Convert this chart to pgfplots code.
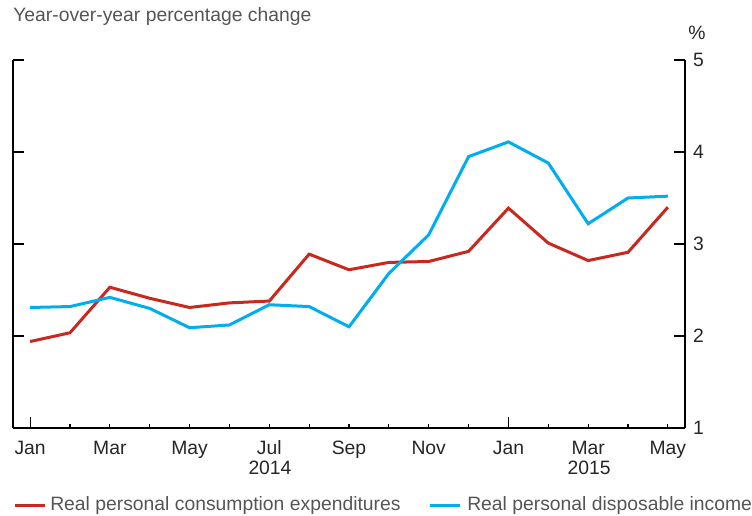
\documentclass[border=0pt]{standalone}
\usepackage{pgfplots}
\pgfplotsset{compat=1.18}
\usepackage{fontspec}
\setmainfont{Liberation Sans}
\definecolor{pcered}{HTML}{C8281E}
\definecolor{dpiblue}{HTML}{00AEEF}
\definecolor{txtgray}{HTML}{555555}
\begin{document}
\begin{tikzpicture}[x=0.75pt,y=0.75pt]
\useasboundingbox (-13,-87) rectangle (739,428);
\begin{axis}[
  at={(0,0)}, anchor=south west,
  scale only axis, width=504pt, height=276pt,
  xmin=-0.43, xmax=16.43, ymin=1, ymax=5,
  axis x line*=bottom,
  tick align=inside,
  xtick={0,2,...,16},
  xticklabels={Jan,Mar,May,Jul,Sep,Nov,Jan,Mar,May},
  major x tick style={draw=none},
  minor xtick={0,...,16},
  minor tick length=3pt,
  minor x tick style={black, line width=0.9pt},
  xtick align=inside,
  major tick length=8.5pt,
  extra x ticks={0,12},
  extra x tick labels={},
  extra x tick style={major x tick style={draw=black, line width=0.9pt}},
  ytick={1,2,3,4,5},
  ytick pos=both, yticklabel pos=right,
  ytick align=inside,
  y tick style={black, line width=0.9pt},
  axis line style={black, line width=1.1pt},
  ticklabel style={font=\fontsize{14.5}{17}\selectfont, text=black!85},
  /pgf/number format/assume math mode=true,
  xticklabel style={yshift=-6pt},
  yticklabel style={xshift=2.5pt},
  clip=false,
]
\addplot[pcered, line width=2.25pt] coordinates {
(0,1.94) (1,2.035) (2,2.53) (3,2.41) (4,2.31) (5,2.36) (6,2.38) (7,2.89) (8,2.72) (9,2.80) (10,2.81) (11,2.92) (12,3.39) (13,3.01) (14,2.82) (15,2.91) (16,3.40)};
\addplot[dpiblue, line width=2.25pt] coordinates {
(0,2.31) (1,2.32) (2,2.42) (3,2.30) (4,2.09) (5,2.12) (6,2.34) (7,2.32) (8,2.10) (9,2.68) (10,3.10) (11,3.95) (12,4.11) (13,3.88) (14,3.22) (15,3.50) (16,3.52)};
\end{axis}
\node[anchor=west, text=txtgray, font=\fontsize{14.5}{17}\selectfont, inner sep=0] at (0,411) {Year-over-year percentage change};
\node[text=black!85, font=\fontsize{14.5}{17}\selectfont, inner sep=0] at (684,395) {\%};
\node[text=black!85, font=\fontsize{14.5}{17}\selectfont, inner sep=0] at (257,-40) {2014};
\node[text=black!85, font=\fontsize{14.5}{17}\selectfont, inner sep=0] at (576,-40) {2015};
\draw[pcered, line width=2.25pt] (2,-77) -- (32,-77);
\node[anchor=west, text=txtgray, font=\fontsize{14.5}{17}\selectfont, inner sep=0] at (37,-77) {Real personal consumption expenditures};
\draw[dpiblue, line width=2.25pt] (417,-77) -- (447,-77);
\node[anchor=west, text=txtgray, font=\fontsize{14.5}{17}\selectfont, inner sep=0] at (454,-77) {Real personal disposable income};
\end{tikzpicture}
\end{document}
